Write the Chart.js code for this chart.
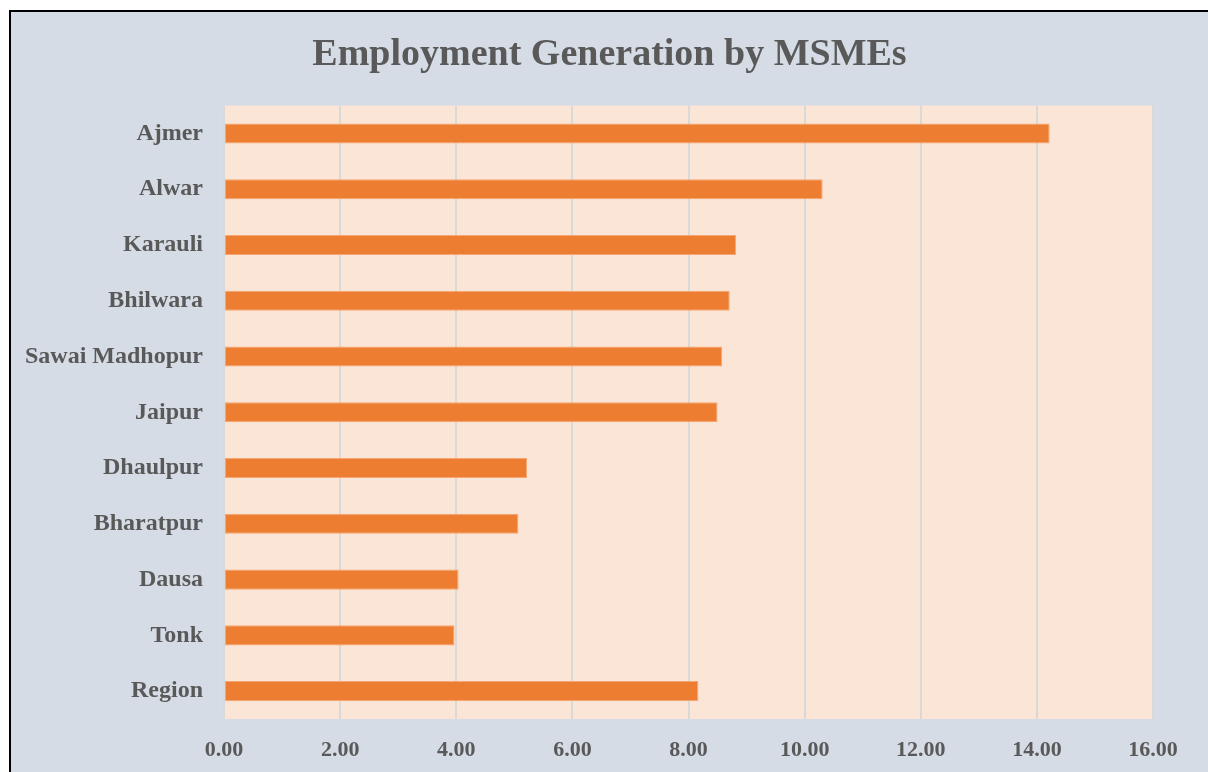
<!DOCTYPE html>
<html>
<head>
<meta charset="utf-8">
<title>Employment Generation by MSMEs</title>
<script src="https://cdn.jsdelivr.net/npm/chart.js@4/dist/chart.umd.min.js"></script>
<style>
  html, body { margin: 0; padding: 0; background: #ffffff; overflow: hidden; }
  #frame {
    position: absolute;
    left: 9px;
    top: 10px;
    width: 1197px;
    height: 760px;
    border-left: 2px solid #000;
    border-top: 2px solid #000;
    background: #d6dce5;
  }
  #chart-box { position: relative; width: 1197px; height: 760px; }
</style>
</head>
<body>
<div id="frame">
  <div id="chart-box"><canvas id="msme-chart"></canvas></div>
</div>
<script>
// employment generated by MSMEs, per district
const districts = [
  "Ajmer",
  "Alwar",
  "Karauli",
  "Bhilwara",
  "Sawai Madhopur",
  "Jaipur",
  "Dhaulpur",
  "Bharatpur",
  "Dausa",
  "Tonk",
  "Region",
];
const employment = [14.22, 10.31, 8.82, 8.71, 8.58, 8.5, 5.22, 5.07, 4.04, 3.97, 8.17];
const axisMin = 0;
const axisMax = 16;
const axisStep = 2;

const textColor = "#595959";
const serif = "'Liberation Serif', 'Times New Roman', serif";

// paints the peach plot area behind the bars
const plotBackground = {
  id: "plotBackground",
  beforeDraw(chart) {
    let area = chart.chartArea;
    let ctx = chart.ctx;
    ctx.save();
    ctx.fillStyle = "#fbe5d6";
    ctx.fillRect(area.left, area.top, area.right - area.left, area.bottom - area.top);
    ctx.restore();
  },
};

function initChart() {
  new Chart(document.getElementById("msme-chart"), {
    type: "bar",
    data: {
      labels: districts,
      datasets: [
        {
          label: "Employment",
          data: employment,
          backgroundColor: "#ed7d31",
          borderColor: "#f4a774",
          borderWidth: 1,
          borderSkipped: false,
          categoryPercentage: 0.72,
          barPercentage: 0.5,
        },
      ],
    },
    options: {
      indexAxis: "y",
      responsive: true,
      maintainAspectRatio: false,
      animation: false,
      layout: {
        padding: 0,
      },
      plugins: {
        legend: { display: false },
        tooltip: { enabled: false },
        title: {
          display: true,
          text: "Employment Generation by MSMEs",
          color: textColor,
          font: { family: serif, size: 38, weight: "bold" },
          padding: { top: 20, bottom: 28 },
        },
      },
      scales: {
        x: {
          min: axisMin,
          max: axisMax,
          border: { display: false },
          grid: {
            color: "#d9d9d9",
            lineWidth: 2,
            drawTicks: false,
          },
          ticks: {
            stepSize: axisStep,
            padding: 18,
            color: textColor,
            font: { family: serif, size: 22, weight: "bold" },
            callback: (value) => Number(value).toFixed(2),
          },
          afterFit(scale) {
            scale.height = 53;
          },
        },
        y: {
          border: { display: false },
          grid: { display: false, drawTicks: false },
          ticks: {
            padding: 21,
            color: textColor,
            font: { family: serif, size: 24, weight: "bold" },
          },
          afterFit(scale) {
            scale.width = 213;
          },
        },
        // empty right-hand axis, only reserves the margin right of the plot
        yRight: {
          type: "category",
          position: "right",
          border: { display: false },
          grid: { display: false, drawTicks: false },
          ticks: { display: false },
          afterFit(scale) {
            scale.width = 55;
          },
        },
      },
    },
    plugins: [plotBackground],
  });
}

initChart();
</script>
</body>
</html>
